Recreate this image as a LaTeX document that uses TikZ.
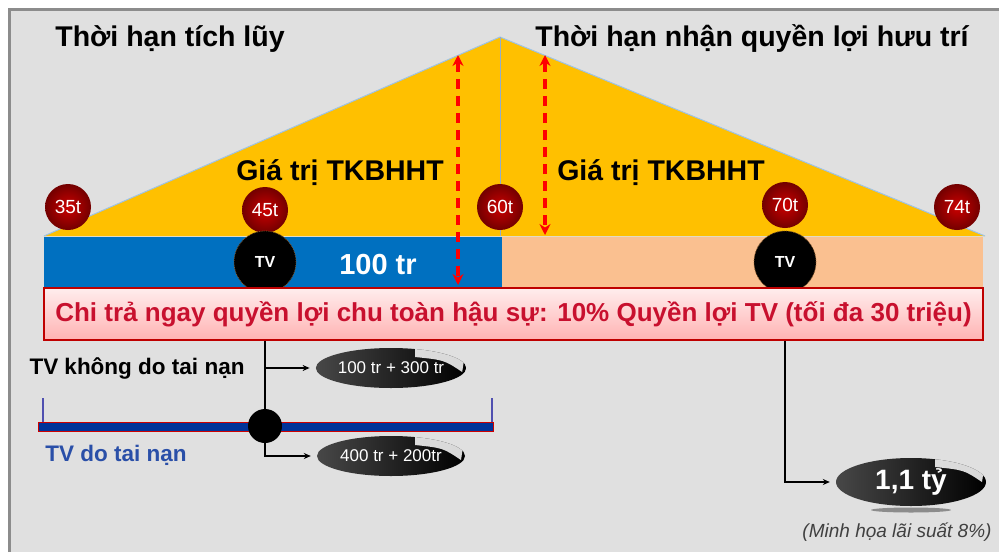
\documentclass[tikz,border=0pt]{standalone}
\usepackage{fontspec}
\setmainfont{Liberation Sans}
\usetikzlibrary{shapes.geometric,arrows.meta}
\definecolor{nen}{HTML}{E0E0E0}
\definecolor{khung}{HTML}{8C8C8C}
\definecolor{vang}{HTML}{FFC000}
\definecolor{canh}{HTML}{9DC3E6}
\definecolor{xanh}{HTML}{0070C0}
\definecolor{cam}{HTML}{FAC090}
\definecolor{chudo}{HTML}{C8102E}
\definecolor{xanhdam}{HTML}{003399}
\definecolor{xanhchu}{HTML}{2A4FA8}
\definecolor{tim}{HTML}{5050B0}
\tikzset{
  tuoi/.style={circle,minimum size=46pt,inner sep=0pt,inner color=red!80!black,
    outer color=red!45!black,text=white,font=\fontsize{19}{19}\selectfont},
  tvtron/.style={circle,fill=black,minimum size=62pt,inner sep=0pt,draw=brown!70!black,
    densely dotted,line width=0.8pt,text=white,font=\bfseries\fontsize{16}{16}\selectfont},
  kq/.style={ellipse,minimum width=148pt,minimum height=40pt,inner sep=0pt,
    left color=black!72,right color=black,text=white,font=\fontsize{17}{17}\selectfont,
    path picture={\fill[white,opacity=.85]
      ([xshift=24pt,yshift=2pt]path picture bounding box.north) --
      ([yshift=2pt]path picture bounding box.north east) --
      ([xshift=-4pt,yshift=-24pt]path picture bounding box.north east) .. controls
      ([xshift=-22pt,yshift=-12pt]path picture bounding box.north east) ..
      ([xshift=24pt,yshift=-9pt]path picture bounding box.north) -- cycle;}},
  tieude/.style={font=\bfseries\fontsize{28.5}{30}\selectfont},
  kep/.style={red,line width=3.5pt,dash pattern=on 10pt off 7pt,
    {Stealth[length=11pt,width=11pt]}-{Stealth[length=11pt,width=11pt]}},
  noi/.style={line width=1.2pt,-{Stealth[length=7pt,width=6pt]},shorten >=6pt}
}
\begin{document}
\begin{tikzpicture}[x=1pt,y=-1pt]
\useasboundingbox (0,0) rectangle (999,552);
\fill[white] (0,0) rectangle (999,552);
\fill[nen] (9,9) rectangle (999,552);
\draw[khung,line width=3pt] (9,552)--(9,9)--(999,9);
% tam giac gia tri
\fill[vang] (44,236)--(500,37)--(985,236)--cycle;
\draw[canh,line width=1pt] (44,236)--(500,37)--(985,236);
\draw[canh!70!gray,line width=1pt] (500,37)--(500,236);
% thanh thoi gian
\fill[xanh] (44,237) rectangle (502,289);
\fill[cam] (502,237) rectangle (983,289);
\node[tieude] (th1) at (170,39) {Thời hạn tích lũy};
\node[tieude] (th2) at (752,39) {Thời hạn nhận quyền lợi hưu trí};
\node[tieude] (gt1) at (340,173) {Giá trị TKBHHT};
\node[tieude] (gt2) at (661,173) {Giá trị TKBHHT};
\node[text=white,font=\bfseries\fontsize{29}{29}\selectfont] (st) at (378,265) {100 tr};
\coordinate (a1) at (458,55); \coordinate (b1) at (458,285);
\coordinate (a2) at (545,55); \coordinate (b2) at (545,235);
\draw[kep] (a1)--(b1);
\draw[kep] (a2)--(b2);
\node[tuoi] (t35) at (68,207) {35t};
\node[tuoi] (t45) at (265,210) {45t};
\node[tuoi] (t60) at (500,207) {60t};
\node[tuoi] (t70) at (785,205) {70t};
\node[tuoi] (t74) at (957,207) {74t};
\node[tvtron] (tv1) at (265,262) {TV};
\node[tvtron] (tv2) at (785,262) {TV};
\node[draw=red!75!black,line width=1.5pt,top color=red!7,bottom color=red!30,
  minimum width=939pt,minimum height=52pt,inner sep=0pt,text=chudo,
  font=\bfseries\fontsize{26}{26}\selectfont] (pay) at (513.5,314)
  {Chi trả ngay quyền lợi chu toàn hậu sự: 10\% Quyền lợi TV (tối đa 30 triệu)};
% tu vong
\draw[red!80!black,line width=0.6pt,fill=xanhdam] (38,422) rectangle (493,431);
\draw[tim,line width=2pt] (43,398)--(43,422) (492,398)--(492,422);
\node[font=\bfseries\fontsize{22.5}{23}\selectfont] (kdtn) at (137,368) {TV không do tai nạn};
\node[text=xanhchu,font=\bfseries\fontsize{22.5}{23}\selectfont] (dtn) at (116,455) {TV do tai nạn};
\node[kq] (e1) at (391,368) {100 tr + 300 tr};
\node[kq] (e2) at (391,456) {400 tr + 200tr};
\node[circle,fill=black,minimum size=34pt,inner sep=0pt] (hub) at (265,426) {};
\draw[line width=1.2pt] (hub |- pay.south)--(hub);
\draw[noi] (hub |- pay.south) |- (e1.west);
\draw[noi] (hub) |- (e2.west);
% huu tri
\fill[black!45] (911,510) ellipse (40pt and 2.5pt);
\node[kq,minimum width=150pt,minimum height=48pt,font=\bfseries\fontsize{28}{28}\selectfont] (big) at (911,482) {1,1 tỷ};
\draw[noi] (tv2 |- pay.south) |- (big.west);
\node[text=black!75,font=\itshape\fontsize{19}{19}\selectfont] (ghichu) at (897,532) {(Minh họa lãi suất 8\%)};
\end{tikzpicture}
\end{document}
